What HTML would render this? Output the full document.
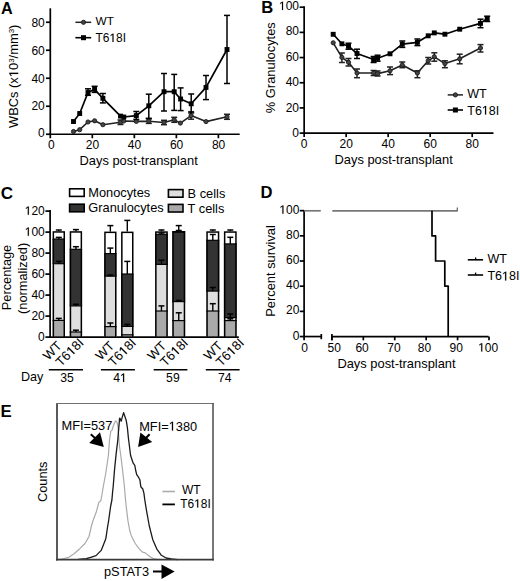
<!DOCTYPE html>
<html><head><meta charset="utf-8"><style>
html,body{margin:0;padding:0;background:#fff;}
svg{display:block;font-family:"Liberation Sans", sans-serif;}
</style></head><body>
<svg width="520" height="581" viewBox="0 0 520 581">
<rect width="520" height="581" fill="#fff"/>
<text x="1.0" y="14.0" font-size="16.2" text-anchor="start" font-weight="bold" fill="#000" >A</text>
<line x1="50.3" y1="8.3" x2="50.3" y2="135.1" stroke="#000" stroke-width="1.7"/>
<line x1="49.449999999999996" y1="134.25" x2="239.7" y2="134.25" stroke="#000" stroke-width="1.7"/>
<line x1="46" y1="134.25" x2="50.3" y2="134.25" stroke="#000" stroke-width="1.7"/>
<text x="44.8" y="137.05" font-size="12" text-anchor="end" font-weight="normal" fill="#000" >0</text>
<line x1="46" y1="106.25" x2="50.3" y2="106.25" stroke="#000" stroke-width="1.7"/>
<text x="44.8" y="109.75" font-size="12" text-anchor="end" font-weight="normal" fill="#000" >20</text>
<line x1="46" y1="78.25" x2="50.3" y2="78.25" stroke="#000" stroke-width="1.7"/>
<text x="44.8" y="82.55" font-size="12" text-anchor="end" font-weight="normal" fill="#000" >40</text>
<line x1="46" y1="50.25" x2="50.3" y2="50.25" stroke="#000" stroke-width="1.7"/>
<text x="44.8" y="54.55" font-size="12" text-anchor="end" font-weight="normal" fill="#000" >60</text>
<line x1="46" y1="22.25" x2="50.3" y2="22.25" stroke="#000" stroke-width="1.7"/>
<text x="44.8" y="26.55" font-size="12" text-anchor="end" font-weight="normal" fill="#000" >80</text>
<line x1="50.3" y1="134.25" x2="50.3" y2="138.25" stroke="#000" stroke-width="1.7"/>
<text x="51.3" y="149.2" font-size="12" text-anchor="middle" font-weight="normal" fill="#000" >0</text>
<line x1="92.32" y1="134.25" x2="92.32" y2="138.25" stroke="#000" stroke-width="1.7"/>
<text x="92.52" y="149.2" font-size="12" text-anchor="middle" font-weight="normal" fill="#000" >20</text>
<line x1="134.33999999999997" y1="134.25" x2="134.33999999999997" y2="138.25" stroke="#000" stroke-width="1.7"/>
<text x="134.53999999999996" y="149.2" font-size="12" text-anchor="middle" font-weight="normal" fill="#000" >40</text>
<line x1="176.36" y1="134.25" x2="176.36" y2="138.25" stroke="#000" stroke-width="1.7"/>
<text x="176.56" y="149.2" font-size="12" text-anchor="middle" font-weight="normal" fill="#000" >60</text>
<line x1="218.38" y1="134.25" x2="218.38" y2="138.25" stroke="#000" stroke-width="1.7"/>
<text x="218.57999999999998" y="149.2" font-size="12" text-anchor="middle" font-weight="normal" fill="#000" >80</text>
<text x="79.5" y="165.4" font-size="12.9" text-anchor="start" font-weight="normal" fill="#000" >Days post-transplant</text>
<text id="one0" x="0" y="0" font-size="12.9" text-anchor="middle" font-weight="normal" fill="#000" transform="translate(18.2,76.3) rotate(-90)">WBCs (x&#x2007;0<tspan font-size="8" dy="-4.5">3</tspan><tspan dy="4.5">/mm</tspan><tspan font-size="8" dy="-4.5">3</tspan><tspan dy="4.5">)</tspan></text>
<line x1="75.4" y1="22.3" x2="91.2" y2="22.3" stroke="#222" stroke-width="1.5"/>
<circle cx="83.5" cy="22.3" r="2.1" fill="#444" stroke="#1a1a1a" stroke-width="0.9"/>
<text x="95.6" y="25.2" font-size="11.8" text-anchor="start" font-weight="normal" fill="#000" >WT</text>
<line x1="75.4" y1="37.7" x2="91.2" y2="37.7" stroke="#000" stroke-width="1.6"/>
<rect x="81" y="35.2" width="5" height="5" fill="#000"/>
<text id="one1" x="95.6" y="41.9" font-size="11.9" text-anchor="start" font-weight="normal" fill="#000" >T6&#x2007;8I</text>
<polyline points="73.5,131.5 79.7,129.7 88,122 94.6,120.8 102.9,124.7 120.5,122.3 123.8,121.0 136.3,121.4 148.8,121.2 164,122.5 174.2,119.8 180.4,123.1 191.1,115.6 206,121.6 227,116.8" fill="none" stroke="#222" stroke-width="1.6" stroke-linejoin="round"/>
<line x1="120.5" y1="120" x2="120.5" y2="124.5" stroke="#222" stroke-width="1.5"/>
<line x1="117.5" y1="120" x2="123.5" y2="120" stroke="#222" stroke-width="1.5"/>
<line x1="117.5" y1="124.5" x2="123.5" y2="124.5" stroke="#222" stroke-width="1.5"/>
<line x1="148.8" y1="119" x2="148.8" y2="123.4" stroke="#222" stroke-width="1.5"/>
<line x1="145.8" y1="119" x2="151.8" y2="119" stroke="#222" stroke-width="1.5"/>
<line x1="145.8" y1="123.4" x2="151.8" y2="123.4" stroke="#222" stroke-width="1.5"/>
<line x1="164" y1="120.3" x2="164" y2="124.7" stroke="#222" stroke-width="1.5"/>
<line x1="161.0" y1="120.3" x2="167.0" y2="120.3" stroke="#222" stroke-width="1.5"/>
<line x1="161.0" y1="124.7" x2="167.0" y2="124.7" stroke="#222" stroke-width="1.5"/>
<line x1="174.2" y1="117.3" x2="174.2" y2="122.3" stroke="#222" stroke-width="1.5"/>
<line x1="171.2" y1="117.3" x2="177.2" y2="117.3" stroke="#222" stroke-width="1.5"/>
<line x1="171.2" y1="122.3" x2="177.2" y2="122.3" stroke="#222" stroke-width="1.5"/>
<line x1="191.1" y1="111.7" x2="191.1" y2="119.2" stroke="#222" stroke-width="1.5"/>
<line x1="188.1" y1="111.7" x2="194.1" y2="111.7" stroke="#222" stroke-width="1.5"/>
<line x1="188.1" y1="119.2" x2="194.1" y2="119.2" stroke="#222" stroke-width="1.5"/>
<line x1="227" y1="114.3" x2="227" y2="119.3" stroke="#222" stroke-width="1.5"/>
<line x1="224.0" y1="114.3" x2="230.0" y2="114.3" stroke="#222" stroke-width="1.5"/>
<line x1="224.0" y1="119.3" x2="230.0" y2="119.3" stroke="#222" stroke-width="1.5"/>
<circle cx="73.5" cy="131.5" r="2.1" fill="#444" stroke="#1a1a1a" stroke-width="0.9"/>
<circle cx="79.7" cy="129.7" r="2.1" fill="#444" stroke="#1a1a1a" stroke-width="0.9"/>
<circle cx="88" cy="122" r="2.1" fill="#444" stroke="#1a1a1a" stroke-width="0.9"/>
<circle cx="94.6" cy="120.8" r="2.1" fill="#444" stroke="#1a1a1a" stroke-width="0.9"/>
<circle cx="102.9" cy="124.7" r="2.1" fill="#444" stroke="#1a1a1a" stroke-width="0.9"/>
<circle cx="120.5" cy="122.3" r="2.1" fill="#444" stroke="#1a1a1a" stroke-width="0.9"/>
<circle cx="123.8" cy="121.0" r="2.1" fill="#444" stroke="#1a1a1a" stroke-width="0.9"/>
<circle cx="136.3" cy="121.4" r="2.1" fill="#444" stroke="#1a1a1a" stroke-width="0.9"/>
<circle cx="148.8" cy="121.2" r="2.1" fill="#444" stroke="#1a1a1a" stroke-width="0.9"/>
<circle cx="164" cy="122.5" r="2.1" fill="#444" stroke="#1a1a1a" stroke-width="0.9"/>
<circle cx="174.2" cy="119.8" r="2.1" fill="#444" stroke="#1a1a1a" stroke-width="0.9"/>
<circle cx="180.4" cy="123.1" r="2.1" fill="#444" stroke="#1a1a1a" stroke-width="0.9"/>
<circle cx="191.1" cy="115.6" r="2.1" fill="#444" stroke="#1a1a1a" stroke-width="0.9"/>
<circle cx="206" cy="121.6" r="2.1" fill="#444" stroke="#1a1a1a" stroke-width="0.9"/>
<circle cx="227" cy="116.8" r="2.1" fill="#444" stroke="#1a1a1a" stroke-width="0.9"/>
<polyline points="73.5,121.5 79.7,113.5 88,92.5 94.6,89.3 102.9,98.3 120.5,116.1 123.8,117 136.3,115.6 148.8,105.8 164,91.7 174.2,91.7 180.6,99 191.2,103.8 206,87.4 227,49.5" fill="none" stroke="#000" stroke-width="1.7" stroke-linejoin="round"/>
<line x1="88" y1="88.8" x2="88" y2="95.3" stroke="#000" stroke-width="1.5"/>
<line x1="85.0" y1="88.8" x2="91.0" y2="88.8" stroke="#000" stroke-width="1.5"/>
<line x1="85.0" y1="95.3" x2="91.0" y2="95.3" stroke="#000" stroke-width="1.5"/>
<line x1="94.6" y1="86.3" x2="94.6" y2="92.4" stroke="#000" stroke-width="1.5"/>
<line x1="91.6" y1="86.3" x2="97.6" y2="86.3" stroke="#000" stroke-width="1.5"/>
<line x1="91.6" y1="92.4" x2="97.6" y2="92.4" stroke="#000" stroke-width="1.5"/>
<line x1="102.9" y1="93.5" x2="102.9" y2="102.9" stroke="#000" stroke-width="1.5"/>
<line x1="99.9" y1="93.5" x2="105.9" y2="93.5" stroke="#000" stroke-width="1.5"/>
<line x1="99.9" y1="102.9" x2="105.9" y2="102.9" stroke="#000" stroke-width="1.5"/>
<line x1="136.3" y1="111.5" x2="136.3" y2="119.4" stroke="#000" stroke-width="1.5"/>
<line x1="133.3" y1="111.5" x2="139.3" y2="111.5" stroke="#000" stroke-width="1.5"/>
<line x1="133.3" y1="119.4" x2="139.3" y2="119.4" stroke="#000" stroke-width="1.5"/>
<line x1="148.8" y1="94.2" x2="148.8" y2="118.3" stroke="#000" stroke-width="1.5"/>
<line x1="145.8" y1="94.2" x2="151.8" y2="94.2" stroke="#000" stroke-width="1.5"/>
<line x1="145.8" y1="118.3" x2="151.8" y2="118.3" stroke="#000" stroke-width="1.5"/>
<line x1="164" y1="73.5" x2="164" y2="111" stroke="#000" stroke-width="1.5"/>
<line x1="161.0" y1="73.5" x2="167.0" y2="73.5" stroke="#000" stroke-width="1.5"/>
<line x1="161.0" y1="111" x2="167.0" y2="111" stroke="#000" stroke-width="1.5"/>
<line x1="174.2" y1="74.4" x2="174.2" y2="110.4" stroke="#000" stroke-width="1.5"/>
<line x1="171.2" y1="74.4" x2="177.2" y2="74.4" stroke="#000" stroke-width="1.5"/>
<line x1="171.2" y1="110.4" x2="177.2" y2="110.4" stroke="#000" stroke-width="1.5"/>
<line x1="180.6" y1="87.9" x2="180.6" y2="110.6" stroke="#000" stroke-width="1.5"/>
<line x1="177.6" y1="87.9" x2="183.6" y2="87.9" stroke="#000" stroke-width="1.5"/>
<line x1="177.6" y1="110.6" x2="183.6" y2="110.6" stroke="#000" stroke-width="1.5"/>
<line x1="191.2" y1="94" x2="191.2" y2="112.9" stroke="#000" stroke-width="1.5"/>
<line x1="188.2" y1="94" x2="194.2" y2="94" stroke="#000" stroke-width="1.5"/>
<line x1="188.2" y1="112.9" x2="194.2" y2="112.9" stroke="#000" stroke-width="1.5"/>
<line x1="206" y1="75.5" x2="206" y2="99.6" stroke="#000" stroke-width="1.5"/>
<line x1="203.0" y1="75.5" x2="209.0" y2="75.5" stroke="#000" stroke-width="1.5"/>
<line x1="203.0" y1="99.6" x2="209.0" y2="99.6" stroke="#000" stroke-width="1.5"/>
<line x1="227" y1="15.4" x2="227" y2="83.5" stroke="#000" stroke-width="1.5"/>
<line x1="224.0" y1="15.4" x2="230.0" y2="15.4" stroke="#000" stroke-width="1.5"/>
<line x1="224.0" y1="83.5" x2="230.0" y2="83.5" stroke="#000" stroke-width="1.5"/>
<rect x="71.05" y="119.05" width="4.9" height="4.9" fill="#000"/>
<rect x="77.25" y="111.05" width="4.9" height="4.9" fill="#000"/>
<rect x="85.55" y="90.05" width="4.9" height="4.9" fill="#000"/>
<rect x="92.14999999999999" y="86.85" width="4.9" height="4.9" fill="#000"/>
<rect x="100.45" y="95.85" width="4.9" height="4.9" fill="#000"/>
<rect x="118.05" y="113.64999999999999" width="4.9" height="4.9" fill="#000"/>
<rect x="121.35" y="114.55" width="4.9" height="4.9" fill="#000"/>
<rect x="133.85000000000002" y="113.14999999999999" width="4.9" height="4.9" fill="#000"/>
<rect x="146.35000000000002" y="103.35" width="4.9" height="4.9" fill="#000"/>
<rect x="161.55" y="89.25" width="4.9" height="4.9" fill="#000"/>
<rect x="171.75" y="89.25" width="4.9" height="4.9" fill="#000"/>
<rect x="178.15" y="96.55" width="4.9" height="4.9" fill="#000"/>
<rect x="188.75" y="101.35" width="4.9" height="4.9" fill="#000"/>
<rect x="203.55" y="84.95" width="4.9" height="4.9" fill="#000"/>
<rect x="224.55" y="47.05" width="4.9" height="4.9" fill="#000"/>
<text x="261.2" y="13.3" font-size="16.6" text-anchor="start" font-weight="bold" fill="#000" >B</text>
<line x1="304.15" y1="6.3" x2="304.15" y2="133.95" stroke="#000" stroke-width="1.7"/>
<line x1="303.29999999999995" y1="133.1" x2="493.5" y2="133.1" stroke="#000" stroke-width="1.7"/>
<line x1="299.6" y1="133.1" x2="304.15" y2="133.1" stroke="#000" stroke-width="1.7"/>
<text x="299.0" y="136.9" font-size="12" text-anchor="end" font-weight="normal" fill="#000" >0</text>
<line x1="299.6" y1="107.91999999999999" x2="304.15" y2="107.91999999999999" stroke="#000" stroke-width="1.7"/>
<text x="299.0" y="111.51999999999998" font-size="12" text-anchor="end" font-weight="normal" fill="#000" >20</text>
<line x1="299.6" y1="82.74" x2="304.15" y2="82.74" stroke="#000" stroke-width="1.7"/>
<text x="299.0" y="86.13999999999999" font-size="12" text-anchor="end" font-weight="normal" fill="#000" >40</text>
<line x1="299.6" y1="57.56" x2="304.15" y2="57.56" stroke="#000" stroke-width="1.7"/>
<text x="299.0" y="60.76" font-size="12" text-anchor="end" font-weight="normal" fill="#000" >60</text>
<line x1="299.6" y1="32.379999999999995" x2="304.15" y2="32.379999999999995" stroke="#000" stroke-width="1.7"/>
<text x="299.0" y="35.379999999999995" font-size="12" text-anchor="end" font-weight="normal" fill="#000" >80</text>
<line x1="299.6" y1="7.200000000000003" x2="304.15" y2="7.200000000000003" stroke="#000" stroke-width="1.7"/>
<text id="one2" x="299.0" y="10.000000000000004" font-size="12" text-anchor="end" font-weight="normal" fill="#000" >&#x2007;00</text>
<line x1="304.15" y1="133.1" x2="304.15" y2="137.1" stroke="#000" stroke-width="1.7"/>
<text x="304.15" y="148.2" font-size="12" text-anchor="middle" font-weight="normal" fill="#000" >0</text>
<line x1="346.162" y1="133.1" x2="346.162" y2="137.1" stroke="#000" stroke-width="1.7"/>
<text x="346.162" y="148.2" font-size="12" text-anchor="middle" font-weight="normal" fill="#000" >20</text>
<line x1="388.174" y1="133.1" x2="388.174" y2="137.1" stroke="#000" stroke-width="1.7"/>
<text x="388.174" y="148.2" font-size="12" text-anchor="middle" font-weight="normal" fill="#000" >40</text>
<line x1="430.186" y1="133.1" x2="430.186" y2="137.1" stroke="#000" stroke-width="1.7"/>
<text x="430.186" y="148.2" font-size="12" text-anchor="middle" font-weight="normal" fill="#000" >60</text>
<line x1="472.198" y1="133.1" x2="472.198" y2="137.1" stroke="#000" stroke-width="1.7"/>
<text x="472.198" y="148.2" font-size="12" text-anchor="middle" font-weight="normal" fill="#000" >80</text>
<text x="334.5" y="164.2" font-size="12.9" text-anchor="start" font-weight="normal" fill="#000" >Days post-transplant</text>
<text x="0" y="0" font-size="12.9" text-anchor="middle" font-weight="normal" fill="#000" transform="translate(275.2,67.7) rotate(-90)">% Granulocytes</text>
<line x1="447.7" y1="94.9" x2="463" y2="94.9" stroke="#222" stroke-width="1.5"/>
<circle cx="455.4" cy="94.9" r="2.1" fill="#444" stroke="#1a1a1a" stroke-width="0.9"/>
<text x="467.3" y="98.2" font-size="12.5" text-anchor="start" font-weight="normal" fill="#000" >WT</text>
<line x1="447.7" y1="110" x2="463" y2="110" stroke="#000" stroke-width="1.6"/>
<rect x="452.9" y="107.5" width="5" height="5" fill="#000"/>
<text id="one3" x="467.3" y="114.6" font-size="12.5" text-anchor="start" font-weight="normal" fill="#000" >T6&#x2007;8I</text>
<polyline points="333.2,42.8 341.9,57.4 348.5,62.3 357,73 373.6,73 377.6,73.6 390,70.8 402.3,65 417.4,73 428.2,60.8 434.3,56.8 444.9,63.6 459.7,58.8 480.5,48" fill="none" stroke="#222" stroke-width="1.6" stroke-linejoin="round"/>
<line x1="341.9" y1="53" x2="341.9" y2="62.5" stroke="#222" stroke-width="1.5"/>
<line x1="338.9" y1="53" x2="344.9" y2="53" stroke="#222" stroke-width="1.5"/>
<line x1="338.9" y1="62.5" x2="344.9" y2="62.5" stroke="#222" stroke-width="1.5"/>
<line x1="348.5" y1="58.5" x2="348.5" y2="66" stroke="#222" stroke-width="1.5"/>
<line x1="345.5" y1="58.5" x2="351.5" y2="58.5" stroke="#222" stroke-width="1.5"/>
<line x1="345.5" y1="66" x2="351.5" y2="66" stroke="#222" stroke-width="1.5"/>
<line x1="357" y1="69" x2="357" y2="77.7" stroke="#222" stroke-width="1.5"/>
<line x1="354.0" y1="69" x2="360.0" y2="69" stroke="#222" stroke-width="1.5"/>
<line x1="354.0" y1="77.7" x2="360.0" y2="77.7" stroke="#222" stroke-width="1.5"/>
<line x1="373.6" y1="70.5" x2="373.6" y2="75.5" stroke="#222" stroke-width="1.5"/>
<line x1="370.6" y1="70.5" x2="376.6" y2="70.5" stroke="#222" stroke-width="1.5"/>
<line x1="370.6" y1="75.5" x2="376.6" y2="75.5" stroke="#222" stroke-width="1.5"/>
<line x1="377.6" y1="71" x2="377.6" y2="76" stroke="#222" stroke-width="1.5"/>
<line x1="374.6" y1="71" x2="380.6" y2="71" stroke="#222" stroke-width="1.5"/>
<line x1="374.6" y1="76" x2="380.6" y2="76" stroke="#222" stroke-width="1.5"/>
<line x1="390" y1="67" x2="390" y2="74.6" stroke="#222" stroke-width="1.5"/>
<line x1="387.0" y1="67" x2="393.0" y2="67" stroke="#222" stroke-width="1.5"/>
<line x1="387.0" y1="74.6" x2="393.0" y2="74.6" stroke="#222" stroke-width="1.5"/>
<line x1="402.3" y1="62" x2="402.3" y2="67.7" stroke="#222" stroke-width="1.5"/>
<line x1="399.3" y1="62" x2="405.3" y2="62" stroke="#222" stroke-width="1.5"/>
<line x1="399.3" y1="67.7" x2="405.3" y2="67.7" stroke="#222" stroke-width="1.5"/>
<line x1="417.4" y1="70.8" x2="417.4" y2="77.7" stroke="#222" stroke-width="1.5"/>
<line x1="414.4" y1="70.8" x2="420.4" y2="70.8" stroke="#222" stroke-width="1.5"/>
<line x1="414.4" y1="77.7" x2="420.4" y2="77.7" stroke="#222" stroke-width="1.5"/>
<line x1="428.2" y1="57.5" x2="428.2" y2="64" stroke="#222" stroke-width="1.5"/>
<line x1="425.2" y1="57.5" x2="431.2" y2="57.5" stroke="#222" stroke-width="1.5"/>
<line x1="425.2" y1="64" x2="431.2" y2="64" stroke="#222" stroke-width="1.5"/>
<line x1="434.3" y1="52.8" x2="434.3" y2="61.2" stroke="#222" stroke-width="1.5"/>
<line x1="431.3" y1="52.8" x2="437.3" y2="52.8" stroke="#222" stroke-width="1.5"/>
<line x1="431.3" y1="61.2" x2="437.3" y2="61.2" stroke="#222" stroke-width="1.5"/>
<line x1="444.9" y1="60.8" x2="444.9" y2="67.7" stroke="#222" stroke-width="1.5"/>
<line x1="441.9" y1="60.8" x2="447.9" y2="60.8" stroke="#222" stroke-width="1.5"/>
<line x1="441.9" y1="67.7" x2="447.9" y2="67.7" stroke="#222" stroke-width="1.5"/>
<line x1="459.7" y1="54.2" x2="459.7" y2="63.8" stroke="#222" stroke-width="1.5"/>
<line x1="456.7" y1="54.2" x2="462.7" y2="54.2" stroke="#222" stroke-width="1.5"/>
<line x1="456.7" y1="63.8" x2="462.7" y2="63.8" stroke="#222" stroke-width="1.5"/>
<line x1="480.5" y1="44.6" x2="480.5" y2="52" stroke="#222" stroke-width="1.5"/>
<line x1="477.5" y1="44.6" x2="483.5" y2="44.6" stroke="#222" stroke-width="1.5"/>
<line x1="477.5" y1="52" x2="483.5" y2="52" stroke="#222" stroke-width="1.5"/>
<circle cx="333.2" cy="42.8" r="2.1" fill="#444" stroke="#1a1a1a" stroke-width="0.9"/>
<circle cx="341.9" cy="57.4" r="2.1" fill="#444" stroke="#1a1a1a" stroke-width="0.9"/>
<circle cx="348.5" cy="62.3" r="2.1" fill="#444" stroke="#1a1a1a" stroke-width="0.9"/>
<circle cx="357" cy="73" r="2.1" fill="#444" stroke="#1a1a1a" stroke-width="0.9"/>
<circle cx="373.6" cy="73" r="2.1" fill="#444" stroke="#1a1a1a" stroke-width="0.9"/>
<circle cx="377.6" cy="73.6" r="2.1" fill="#444" stroke="#1a1a1a" stroke-width="0.9"/>
<circle cx="390" cy="70.8" r="2.1" fill="#444" stroke="#1a1a1a" stroke-width="0.9"/>
<circle cx="402.3" cy="65" r="2.1" fill="#444" stroke="#1a1a1a" stroke-width="0.9"/>
<circle cx="417.4" cy="73" r="2.1" fill="#444" stroke="#1a1a1a" stroke-width="0.9"/>
<circle cx="428.2" cy="60.8" r="2.1" fill="#444" stroke="#1a1a1a" stroke-width="0.9"/>
<circle cx="434.3" cy="56.8" r="2.1" fill="#444" stroke="#1a1a1a" stroke-width="0.9"/>
<circle cx="444.9" cy="63.6" r="2.1" fill="#444" stroke="#1a1a1a" stroke-width="0.9"/>
<circle cx="459.7" cy="58.8" r="2.1" fill="#444" stroke="#1a1a1a" stroke-width="0.9"/>
<circle cx="480.5" cy="48" r="2.1" fill="#444" stroke="#1a1a1a" stroke-width="0.9"/>
<polyline points="333.2,34.3 341.9,43.8 348.5,46.2 357,53.5 373.6,59.5 377.6,58.2 390,53.8 402.3,44.2 417.4,42.3 428.2,35.8 434.3,32.9 444.9,34.2 459.7,29.2 480.5,23.4 487.2,18.5" fill="none" stroke="#000" stroke-width="1.7" stroke-linejoin="round"/>
<line x1="348.5" y1="43.2" x2="348.5" y2="49.2" stroke="#000" stroke-width="1.5"/>
<line x1="345.5" y1="43.2" x2="351.5" y2="43.2" stroke="#000" stroke-width="1.5"/>
<line x1="345.5" y1="49.2" x2="351.5" y2="49.2" stroke="#000" stroke-width="1.5"/>
<line x1="357" y1="49.2" x2="357" y2="58.5" stroke="#000" stroke-width="1.5"/>
<line x1="354.0" y1="49.2" x2="360.0" y2="49.2" stroke="#000" stroke-width="1.5"/>
<line x1="354.0" y1="58.5" x2="360.0" y2="58.5" stroke="#000" stroke-width="1.5"/>
<line x1="373.6" y1="56.5" x2="373.6" y2="62.5" stroke="#000" stroke-width="1.5"/>
<line x1="370.6" y1="56.5" x2="376.6" y2="56.5" stroke="#000" stroke-width="1.5"/>
<line x1="370.6" y1="62.5" x2="376.6" y2="62.5" stroke="#000" stroke-width="1.5"/>
<line x1="377.6" y1="55.2" x2="377.6" y2="61.2" stroke="#000" stroke-width="1.5"/>
<line x1="374.6" y1="55.2" x2="380.6" y2="55.2" stroke="#000" stroke-width="1.5"/>
<line x1="374.6" y1="61.2" x2="380.6" y2="61.2" stroke="#000" stroke-width="1.5"/>
<line x1="402.3" y1="41" x2="402.3" y2="47.4" stroke="#000" stroke-width="1.5"/>
<line x1="399.3" y1="41" x2="405.3" y2="41" stroke="#000" stroke-width="1.5"/>
<line x1="399.3" y1="47.4" x2="405.3" y2="47.4" stroke="#000" stroke-width="1.5"/>
<line x1="417.4" y1="39" x2="417.4" y2="45.6" stroke="#000" stroke-width="1.5"/>
<line x1="414.4" y1="39" x2="420.4" y2="39" stroke="#000" stroke-width="1.5"/>
<line x1="414.4" y1="45.6" x2="420.4" y2="45.6" stroke="#000" stroke-width="1.5"/>
<line x1="480.5" y1="19.2" x2="480.5" y2="27.7" stroke="#000" stroke-width="1.5"/>
<line x1="477.5" y1="19.2" x2="483.5" y2="19.2" stroke="#000" stroke-width="1.5"/>
<line x1="477.5" y1="27.7" x2="483.5" y2="27.7" stroke="#000" stroke-width="1.5"/>
<line x1="487.2" y1="16.2" x2="487.2" y2="21.5" stroke="#000" stroke-width="1.5"/>
<line x1="484.2" y1="16.2" x2="490.2" y2="16.2" stroke="#000" stroke-width="1.5"/>
<line x1="484.2" y1="21.5" x2="490.2" y2="21.5" stroke="#000" stroke-width="1.5"/>
<rect x="330.75" y="31.849999999999998" width="4.9" height="4.9" fill="#000"/>
<rect x="339.45" y="41.349999999999994" width="4.9" height="4.9" fill="#000"/>
<rect x="346.05" y="43.75" width="4.9" height="4.9" fill="#000"/>
<rect x="354.55" y="51.05" width="4.9" height="4.9" fill="#000"/>
<rect x="371.15000000000003" y="57.05" width="4.9" height="4.9" fill="#000"/>
<rect x="375.15000000000003" y="55.75" width="4.9" height="4.9" fill="#000"/>
<rect x="387.55" y="51.349999999999994" width="4.9" height="4.9" fill="#000"/>
<rect x="399.85" y="41.75" width="4.9" height="4.9" fill="#000"/>
<rect x="414.95" y="39.849999999999994" width="4.9" height="4.9" fill="#000"/>
<rect x="425.75" y="33.349999999999994" width="4.9" height="4.9" fill="#000"/>
<rect x="431.85" y="30.45" width="4.9" height="4.9" fill="#000"/>
<rect x="442.45" y="31.750000000000004" width="4.9" height="4.9" fill="#000"/>
<rect x="457.25" y="26.75" width="4.9" height="4.9" fill="#000"/>
<rect x="478.05" y="20.95" width="4.9" height="4.9" fill="#000"/>
<rect x="484.75" y="16.05" width="4.9" height="4.9" fill="#000"/>
<text x="0.7" y="199.1" font-size="17" text-anchor="start" font-weight="bold" fill="#000" >C</text>
<line x1="50.1" y1="210.0" x2="50.1" y2="337.95000000000005" stroke="#000" stroke-width="1.7"/>
<line x1="49.25" y1="337.1" x2="238.8" y2="337.1" stroke="#000" stroke-width="1.7"/>
<line x1="45.4" y1="337.1" x2="50.1" y2="337.1" stroke="#000" stroke-width="1.7"/>
<text x="44.8" y="340.8" font-size="12" text-anchor="end" font-weight="normal" fill="#000" >0</text>
<line x1="45.4" y1="316.1" x2="50.1" y2="316.1" stroke="#000" stroke-width="1.7"/>
<text x="44.8" y="319.8" font-size="12" text-anchor="end" font-weight="normal" fill="#000" >20</text>
<line x1="45.4" y1="295.1" x2="50.1" y2="295.1" stroke="#000" stroke-width="1.7"/>
<text x="44.8" y="298.8" font-size="12" text-anchor="end" font-weight="normal" fill="#000" >40</text>
<line x1="45.4" y1="274.1" x2="50.1" y2="274.1" stroke="#000" stroke-width="1.7"/>
<text x="44.8" y="277.8" font-size="12" text-anchor="end" font-weight="normal" fill="#000" >60</text>
<line x1="45.4" y1="253.10000000000002" x2="50.1" y2="253.10000000000002" stroke="#000" stroke-width="1.7"/>
<text x="44.8" y="256.8" font-size="12" text-anchor="end" font-weight="normal" fill="#000" >80</text>
<line x1="45.4" y1="232.10000000000002" x2="50.1" y2="232.10000000000002" stroke="#000" stroke-width="1.7"/>
<text id="one4" x="44.8" y="235.8" font-size="12" text-anchor="end" font-weight="normal" fill="#000" >&#x2007;00</text>
<line x1="45.4" y1="211.10000000000002" x2="50.1" y2="211.10000000000002" stroke="#000" stroke-width="1.7"/>
<text id="one5" x="44.8" y="214.8" font-size="12" text-anchor="end" font-weight="normal" fill="#000" >&#x2007;20</text>
<rect x="69.6" y="188.8" width="14.6" height="7.6" fill="#fff" stroke="#000" stroke-width="1.6"/>
<rect x="69.6" y="204.2" width="14.6" height="7.6" fill="#333" stroke="#000" stroke-width="1.6"/>
<rect x="168.4" y="189.6" width="14.6" height="7.6" fill="#dedede" stroke="#000" stroke-width="1.6"/>
<rect x="168.4" y="204.4" width="14.6" height="7.6" fill="#a9a9a9" stroke="#000" stroke-width="1.6"/>
<text x="88.3" y="196.7" font-size="12.8" text-anchor="start" font-weight="normal" fill="#000" >Monocytes</text>
<text x="88.3" y="212.0" font-size="12.8" text-anchor="start" font-weight="normal" fill="#000" >Granulocytes</text>
<text x="187.6" y="197.8" font-size="12.8" text-anchor="start" font-weight="normal" fill="#000" >B cells</text>
<text x="187.6" y="212.8" font-size="12.8" text-anchor="start" font-weight="normal" fill="#000" >T cells</text>
<rect x="52.6" y="231.2" width="12.399999999999999" height="7.800000000000011" fill="#fff"/>
<rect x="52.6" y="239.0" width="12.399999999999999" height="24.69999999999999" fill="#333"/>
<rect x="52.6" y="263.7" width="12.399999999999999" height="56.69999999999999" fill="#dedede"/>
<rect x="52.6" y="320.4" width="12.399999999999999" height="16.700000000000045" fill="#a9a9a9"/>
<line x1="58.8" y1="230.0" x2="58.8" y2="231.2" stroke="#000" stroke-width="1.4"/>
<line x1="55.8" y1="230.0" x2="61.8" y2="230.0" stroke="#000" stroke-width="1.5"/>
<line x1="58.8" y1="237.4" x2="58.8" y2="239.0" stroke="#000" stroke-width="1.4"/>
<line x1="55.8" y1="237.4" x2="61.8" y2="237.4" stroke="#000" stroke-width="1.5"/>
<line x1="58.8" y1="261.4" x2="58.8" y2="263.7" stroke="#000" stroke-width="1.4"/>
<line x1="55.8" y1="261.4" x2="61.8" y2="261.4" stroke="#000" stroke-width="1.5"/>
<line x1="58.8" y1="318.4" x2="58.8" y2="320.4" stroke="#000" stroke-width="1.4"/>
<line x1="55.8" y1="318.4" x2="61.8" y2="318.4" stroke="#000" stroke-width="1.5"/>
<line x1="52.6" y1="239.0" x2="65.0" y2="239.0" stroke="#000" stroke-width="1.2"/>
<line x1="52.6" y1="263.7" x2="65.0" y2="263.7" stroke="#000" stroke-width="1.2"/>
<line x1="52.6" y1="320.4" x2="65.0" y2="320.4" stroke="#000" stroke-width="1.2"/>
<rect x="53.35" y="231.95" width="10.899999999999999" height="105.15000000000003" fill="none" stroke="#000" stroke-width="1.5"/>
<rect x="69.7" y="231.2" width="12.399999999999991" height="18.100000000000023" fill="#fff"/>
<rect x="69.7" y="249.3" width="12.399999999999991" height="56.599999999999966" fill="#333"/>
<rect x="69.7" y="305.9" width="12.399999999999991" height="26.100000000000023" fill="#dedede"/>
<rect x="69.7" y="332.0" width="12.399999999999991" height="5.100000000000023" fill="#a9a9a9"/>
<line x1="75.9" y1="229.6" x2="75.9" y2="231.2" stroke="#000" stroke-width="1.4"/>
<line x1="72.9" y1="229.6" x2="78.9" y2="229.6" stroke="#000" stroke-width="1.5"/>
<line x1="75.9" y1="246.7" x2="75.9" y2="249.3" stroke="#000" stroke-width="1.4"/>
<line x1="72.9" y1="246.7" x2="78.9" y2="246.7" stroke="#000" stroke-width="1.5"/>
<line x1="75.9" y1="304.3" x2="75.9" y2="305.9" stroke="#000" stroke-width="1.4"/>
<line x1="72.9" y1="304.3" x2="78.9" y2="304.3" stroke="#000" stroke-width="1.5"/>
<line x1="75.9" y1="330.2" x2="75.9" y2="332.0" stroke="#000" stroke-width="1.4"/>
<line x1="72.9" y1="330.2" x2="78.9" y2="330.2" stroke="#000" stroke-width="1.5"/>
<line x1="69.7" y1="249.3" x2="82.1" y2="249.3" stroke="#000" stroke-width="1.2"/>
<line x1="69.7" y1="305.9" x2="82.1" y2="305.9" stroke="#000" stroke-width="1.2"/>
<line x1="69.7" y1="332.0" x2="82.1" y2="332.0" stroke="#000" stroke-width="1.2"/>
<rect x="70.45" y="231.95" width="10.899999999999991" height="105.15000000000003" fill="none" stroke="#000" stroke-width="1.5"/>
<rect x="104.2" y="231.6" width="12.299999999999997" height="22.0" fill="#fff"/>
<rect x="104.2" y="253.6" width="12.299999999999997" height="22.599999999999994" fill="#333"/>
<rect x="104.2" y="276.2" width="12.299999999999997" height="50.400000000000034" fill="#dedede"/>
<rect x="104.2" y="326.6" width="12.299999999999997" height="10.5" fill="#a9a9a9"/>
<line x1="110.35" y1="225.6" x2="110.35" y2="231.6" stroke="#000" stroke-width="1.4"/>
<line x1="107.35" y1="225.6" x2="113.35" y2="225.6" stroke="#000" stroke-width="1.5"/>
<line x1="110.35" y1="248.1" x2="110.35" y2="253.6" stroke="#000" stroke-width="1.4"/>
<line x1="107.35" y1="248.1" x2="113.35" y2="248.1" stroke="#000" stroke-width="1.5"/>
<line x1="110.35" y1="275.0" x2="110.35" y2="276.2" stroke="#000" stroke-width="1.4"/>
<line x1="107.35" y1="275.0" x2="113.35" y2="275.0" stroke="#000" stroke-width="1.5"/>
<line x1="110.35" y1="323.0" x2="110.35" y2="326.6" stroke="#000" stroke-width="1.4"/>
<line x1="107.35" y1="323.0" x2="113.35" y2="323.0" stroke="#000" stroke-width="1.5"/>
<line x1="104.2" y1="253.6" x2="116.5" y2="253.6" stroke="#000" stroke-width="1.2"/>
<line x1="104.2" y1="276.2" x2="116.5" y2="276.2" stroke="#000" stroke-width="1.2"/>
<line x1="104.2" y1="326.6" x2="116.5" y2="326.6" stroke="#000" stroke-width="1.2"/>
<rect x="104.95" y="232.35" width="10.799999999999997" height="104.75000000000003" fill="none" stroke="#000" stroke-width="1.5"/>
<rect x="121.1" y="231.6" width="12.400000000000006" height="42.400000000000006" fill="#fff"/>
<rect x="121.1" y="274.0" width="12.400000000000006" height="52.39999999999998" fill="#333"/>
<rect x="121.1" y="326.4" width="12.400000000000006" height="8.400000000000034" fill="#dedede"/>
<rect x="121.1" y="334.8" width="12.400000000000006" height="2.3000000000000114" fill="#a9a9a9"/>
<line x1="127.3" y1="220.4" x2="127.3" y2="231.6" stroke="#000" stroke-width="1.4"/>
<line x1="124.3" y1="220.4" x2="130.3" y2="220.4" stroke="#000" stroke-width="1.5"/>
<line x1="127.3" y1="261.4" x2="127.3" y2="274.0" stroke="#000" stroke-width="1.4"/>
<line x1="124.3" y1="261.4" x2="130.3" y2="261.4" stroke="#000" stroke-width="1.5"/>
<line x1="127.3" y1="324.4" x2="127.3" y2="326.4" stroke="#000" stroke-width="1.4"/>
<line x1="124.3" y1="324.4" x2="130.3" y2="324.4" stroke="#000" stroke-width="1.5"/>
<line x1="121.1" y1="274.0" x2="133.5" y2="274.0" stroke="#000" stroke-width="1.2"/>
<line x1="121.1" y1="326.4" x2="133.5" y2="326.4" stroke="#000" stroke-width="1.2"/>
<line x1="121.1" y1="334.8" x2="133.5" y2="334.8" stroke="#000" stroke-width="1.2"/>
<rect x="121.85" y="232.35" width="10.900000000000006" height="104.75000000000003" fill="none" stroke="#000" stroke-width="1.5"/>
<rect x="155.1" y="231.3" width="12.700000000000017" height="3.0" fill="#fff"/>
<rect x="155.1" y="234.3" width="12.700000000000017" height="30.099999999999966" fill="#333"/>
<rect x="155.1" y="264.4" width="12.700000000000017" height="46.60000000000002" fill="#dedede"/>
<rect x="155.1" y="311.0" width="12.700000000000017" height="26.100000000000023" fill="#a9a9a9"/>
<line x1="161.45" y1="230.0" x2="161.45" y2="231.3" stroke="#000" stroke-width="1.4"/>
<line x1="158.45" y1="230.0" x2="164.45" y2="230.0" stroke="#000" stroke-width="1.5"/>
<line x1="161.45" y1="233.0" x2="161.45" y2="234.3" stroke="#000" stroke-width="1.4"/>
<line x1="158.45" y1="233.0" x2="164.45" y2="233.0" stroke="#000" stroke-width="1.5"/>
<line x1="161.45" y1="260.2" x2="161.45" y2="264.4" stroke="#000" stroke-width="1.4"/>
<line x1="158.45" y1="260.2" x2="164.45" y2="260.2" stroke="#000" stroke-width="1.5"/>
<line x1="161.45" y1="305.9" x2="161.45" y2="311.0" stroke="#000" stroke-width="1.4"/>
<line x1="158.45" y1="305.9" x2="164.45" y2="305.9" stroke="#000" stroke-width="1.5"/>
<line x1="155.1" y1="234.3" x2="167.8" y2="234.3" stroke="#000" stroke-width="1.2"/>
<line x1="155.1" y1="264.4" x2="167.8" y2="264.4" stroke="#000" stroke-width="1.2"/>
<line x1="155.1" y1="311.0" x2="167.8" y2="311.0" stroke="#000" stroke-width="1.2"/>
<rect x="155.85" y="232.05" width="11.200000000000017" height="105.05000000000001" fill="none" stroke="#000" stroke-width="1.5"/>
<rect x="172.3" y="231.3" width="12.899999999999977" height="0.29999999999998295" fill="#fff"/>
<rect x="172.3" y="231.6" width="12.899999999999977" height="70.00000000000003" fill="#333"/>
<rect x="172.3" y="301.6" width="12.899999999999977" height="19.0" fill="#dedede"/>
<rect x="172.3" y="320.6" width="12.899999999999977" height="16.5" fill="#a9a9a9"/>
<line x1="178.75" y1="225.6" x2="178.75" y2="231.3" stroke="#000" stroke-width="1.4"/>
<line x1="175.75" y1="225.6" x2="181.75" y2="225.6" stroke="#000" stroke-width="1.5"/>
<line x1="178.75" y1="230.5" x2="178.75" y2="231.6" stroke="#000" stroke-width="1.4"/>
<line x1="175.75" y1="230.5" x2="181.75" y2="230.5" stroke="#000" stroke-width="1.5"/>
<line x1="178.75" y1="300.5" x2="178.75" y2="301.6" stroke="#000" stroke-width="1.4"/>
<line x1="175.75" y1="300.5" x2="181.75" y2="300.5" stroke="#000" stroke-width="1.5"/>
<line x1="178.75" y1="312.8" x2="178.75" y2="320.6" stroke="#000" stroke-width="1.4"/>
<line x1="175.75" y1="312.8" x2="181.75" y2="312.8" stroke="#000" stroke-width="1.5"/>
<line x1="172.3" y1="231.6" x2="185.2" y2="231.6" stroke="#000" stroke-width="1.2"/>
<line x1="172.3" y1="301.6" x2="185.2" y2="301.6" stroke="#000" stroke-width="1.2"/>
<line x1="172.3" y1="320.6" x2="185.2" y2="320.6" stroke="#000" stroke-width="1.2"/>
<rect x="173.05" y="232.05" width="11.399999999999977" height="105.05000000000001" fill="none" stroke="#000" stroke-width="1.5"/>
<rect x="206.3" y="231.3" width="13.0" height="9.0" fill="#fff"/>
<rect x="206.3" y="240.3" width="13.0" height="50.80000000000001" fill="#333"/>
<rect x="206.3" y="291.1" width="13.0" height="19.899999999999977" fill="#dedede"/>
<rect x="206.3" y="311.0" width="13.0" height="26.100000000000023" fill="#a9a9a9"/>
<line x1="212.8" y1="230.0" x2="212.8" y2="231.3" stroke="#000" stroke-width="1.4"/>
<line x1="209.8" y1="230.0" x2="215.8" y2="230.0" stroke="#000" stroke-width="1.5"/>
<line x1="212.8" y1="234.5" x2="212.8" y2="240.3" stroke="#000" stroke-width="1.4"/>
<line x1="209.8" y1="234.5" x2="215.8" y2="234.5" stroke="#000" stroke-width="1.5"/>
<line x1="212.8" y1="287.5" x2="212.8" y2="291.1" stroke="#000" stroke-width="1.4"/>
<line x1="209.8" y1="287.5" x2="215.8" y2="287.5" stroke="#000" stroke-width="1.5"/>
<line x1="212.8" y1="303.7" x2="212.8" y2="311.0" stroke="#000" stroke-width="1.4"/>
<line x1="209.8" y1="303.7" x2="215.8" y2="303.7" stroke="#000" stroke-width="1.5"/>
<line x1="206.3" y1="240.3" x2="219.3" y2="240.3" stroke="#000" stroke-width="1.2"/>
<line x1="206.3" y1="291.1" x2="219.3" y2="291.1" stroke="#000" stroke-width="1.2"/>
<line x1="206.3" y1="311.0" x2="219.3" y2="311.0" stroke="#000" stroke-width="1.2"/>
<rect x="207.05" y="232.05" width="11.5" height="105.05000000000001" fill="none" stroke="#000" stroke-width="1.5"/>
<rect x="223.9" y="231.3" width="12.799999999999983" height="12.599999999999994" fill="#fff"/>
<rect x="223.9" y="243.9" width="12.799999999999983" height="73.70000000000002" fill="#333"/>
<rect x="223.9" y="317.6" width="12.799999999999983" height="3.0" fill="#dedede"/>
<rect x="223.9" y="320.6" width="12.799999999999983" height="16.5" fill="#a9a9a9"/>
<line x1="230.3" y1="230.0" x2="230.3" y2="231.3" stroke="#000" stroke-width="1.4"/>
<line x1="227.3" y1="230.0" x2="233.3" y2="230.0" stroke="#000" stroke-width="1.5"/>
<line x1="230.3" y1="237.3" x2="230.3" y2="243.9" stroke="#000" stroke-width="1.4"/>
<line x1="227.3" y1="237.3" x2="233.3" y2="237.3" stroke="#000" stroke-width="1.5"/>
<line x1="230.3" y1="314.0" x2="230.3" y2="317.6" stroke="#000" stroke-width="1.4"/>
<line x1="227.3" y1="314.0" x2="233.3" y2="314.0" stroke="#000" stroke-width="1.5"/>
<line x1="230.3" y1="318.8" x2="230.3" y2="320.6" stroke="#000" stroke-width="1.4"/>
<line x1="227.3" y1="318.8" x2="233.3" y2="318.8" stroke="#000" stroke-width="1.5"/>
<line x1="223.9" y1="243.9" x2="236.7" y2="243.9" stroke="#000" stroke-width="1.2"/>
<line x1="223.9" y1="317.6" x2="236.7" y2="317.6" stroke="#000" stroke-width="1.2"/>
<line x1="223.9" y1="320.6" x2="236.7" y2="320.6" stroke="#000" stroke-width="1.2"/>
<rect x="224.65" y="232.05" width="11.299999999999983" height="105.05000000000001" fill="none" stroke="#000" stroke-width="1.5"/>
<text x="0" y="0" font-size="13" text-anchor="end" font-weight="normal" fill="#000" transform="translate(62.6,346.6) rotate(-45)">WT</text>
<text id="one6" x="0" y="0" font-size="13" text-anchor="end" font-weight="normal" fill="#000" transform="translate(84.5,343.7) rotate(-45)">T6&#x2007;8I</text>
<line x1="48.8" y1="369.8" x2="83.0" y2="369.8" stroke="#000" stroke-width="1.6"/>
<text x="67.1" y="382.0" font-size="12.2" text-anchor="middle" font-weight="normal" fill="#000" >35</text>
<text x="0" y="0" font-size="13" text-anchor="end" font-weight="normal" fill="#000" transform="translate(115.0,346.6) rotate(-45)">WT</text>
<text id="one7" x="0" y="0" font-size="13" text-anchor="end" font-weight="normal" fill="#000" transform="translate(136.9,343.7) rotate(-45)">T6&#x2007;8I</text>
<line x1="100.9" y1="369.8" x2="134.9" y2="369.8" stroke="#000" stroke-width="1.6"/>
<text id="one8" x="120.0" y="382.0" font-size="12.2" text-anchor="middle" font-weight="normal" fill="#000" >4&#x2007;</text>
<text x="0" y="0" font-size="13" text-anchor="end" font-weight="normal" fill="#000" transform="translate(167.0,346.6) rotate(-45)">WT</text>
<text id="one9" x="0" y="0" font-size="13" text-anchor="end" font-weight="normal" fill="#000" transform="translate(188.9,343.7) rotate(-45)">T6&#x2007;8I</text>
<line x1="153.7" y1="369.8" x2="187.4" y2="369.8" stroke="#000" stroke-width="1.6"/>
<text x="172.9" y="382.0" font-size="12.2" text-anchor="middle" font-weight="normal" fill="#000" >59</text>
<text x="0" y="0" font-size="13" text-anchor="end" font-weight="normal" fill="#000" transform="translate(223.4,346.6) rotate(-45)">WT</text>
<text id="one10" x="0" y="0" font-size="13" text-anchor="end" font-weight="normal" fill="#000" transform="translate(244.7,343.7) rotate(-45)">T6&#x2007;8I</text>
<line x1="205.8" y1="369.8" x2="239.6" y2="369.8" stroke="#000" stroke-width="1.6"/>
<text x="224.7" y="382.0" font-size="12.2" text-anchor="middle" font-weight="normal" fill="#000" >74</text>
<text x="21.0" y="381.3" font-size="12.6" text-anchor="start" font-weight="normal" fill="#000" >Day</text>
<text x="0" y="0" font-size="12.8" text-anchor="middle" font-weight="normal" fill="#000" transform="translate(10.9,277.5) rotate(-90)">Percentage</text>
<text x="0" y="0" font-size="12.8" text-anchor="middle" font-weight="normal" fill="#000" transform="translate(26.6,278.4) rotate(-90)">(normalized)</text>
<text x="260.5" y="198.1" font-size="16.6" text-anchor="start" font-weight="bold" fill="#000" >D</text>
<line x1="304.1" y1="210.0" x2="304.1" y2="337.40000000000003" stroke="#000" stroke-width="1.7"/>
<line x1="299.8" y1="336.55" x2="304.1" y2="336.55" stroke="#000" stroke-width="1.7"/>
<text x="299.4" y="339.65000000000003" font-size="12" text-anchor="end" font-weight="normal" fill="#000" >0</text>
<line x1="299.8" y1="311.37" x2="304.1" y2="311.37" stroke="#000" stroke-width="1.7"/>
<text x="299.4" y="314.47" font-size="12" text-anchor="end" font-weight="normal" fill="#000" >20</text>
<line x1="299.8" y1="286.19" x2="304.1" y2="286.19" stroke="#000" stroke-width="1.7"/>
<text x="299.4" y="289.29" font-size="12" text-anchor="end" font-weight="normal" fill="#000" >40</text>
<line x1="299.8" y1="261.01" x2="304.1" y2="261.01" stroke="#000" stroke-width="1.7"/>
<text x="299.4" y="264.11" font-size="12" text-anchor="end" font-weight="normal" fill="#000" >60</text>
<line x1="299.8" y1="235.83" x2="304.1" y2="235.83" stroke="#000" stroke-width="1.7"/>
<text x="299.4" y="238.93" font-size="12" text-anchor="end" font-weight="normal" fill="#000" >80</text>
<line x1="299.8" y1="210.65000000000003" x2="304.1" y2="210.65000000000003" stroke="#000" stroke-width="1.7"/>
<text id="one11" x="299.4" y="213.75000000000003" font-size="12" text-anchor="end" font-weight="normal" fill="#000" >&#x2007;00</text>
<line x1="303.25" y1="336.55" x2="321.3" y2="336.55" stroke="#000" stroke-width="1.7"/>
<line x1="321.3" y1="334.0" x2="321.3" y2="339.2" stroke="#000" stroke-width="1.7"/>
<line x1="331.9" y1="336.55" x2="488.6" y2="336.55" stroke="#000" stroke-width="1.7"/>
<line x1="331.9" y1="334.0" x2="331.9" y2="340.3" stroke="#000" stroke-width="1.7"/>
<line x1="304.1" y1="336.55" x2="304.1" y2="340.3" stroke="#000" stroke-width="1.7"/>
<text x="304.6" y="351.5" font-size="12" text-anchor="middle" font-weight="normal" fill="#000" >0</text>
<line x1="331.9" y1="336.55" x2="331.9" y2="340.3" stroke="#000" stroke-width="1.7"/>
<text x="334.25" y="351.5" font-size="12" text-anchor="middle" font-weight="normal" fill="#000" >50</text>
<line x1="363.32" y1="336.55" x2="363.32" y2="340.3" stroke="#000" stroke-width="1.7"/>
<text x="362.1" y="351.5" font-size="12" text-anchor="middle" font-weight="normal" fill="#000" >60</text>
<line x1="394.73999999999995" y1="336.55" x2="394.73999999999995" y2="340.3" stroke="#000" stroke-width="1.7"/>
<text x="394.0" y="351.5" font-size="12" text-anchor="middle" font-weight="normal" fill="#000" >70</text>
<line x1="426.15999999999997" y1="336.55" x2="426.15999999999997" y2="340.3" stroke="#000" stroke-width="1.7"/>
<text x="424.4" y="351.5" font-size="12" text-anchor="middle" font-weight="normal" fill="#000" >80</text>
<line x1="457.58" y1="336.55" x2="457.58" y2="340.3" stroke="#000" stroke-width="1.7"/>
<text x="456.2" y="351.5" font-size="12" text-anchor="middle" font-weight="normal" fill="#000" >90</text>
<line x1="489.0" y1="336.55" x2="489.0" y2="340.3" stroke="#000" stroke-width="1.7"/>
<text id="one12" x="488.2" y="351.5" font-size="12" text-anchor="middle" font-weight="normal" fill="#000" >&#x2007;00</text>
<text x="337.4" y="367.9" font-size="12.9" text-anchor="start" font-weight="normal" fill="#000" >Days post-transplant</text>
<text x="0" y="0" font-size="12.9" text-anchor="middle" font-weight="normal" fill="#000" transform="translate(275.4,271.0) rotate(-90)">Percent survival</text>
<line x1="304.1" y1="210.8" x2="320.8" y2="210.8" stroke="#777" stroke-width="1.7"/>
<line x1="332.3" y1="210.8" x2="457.3" y2="210.8" stroke="#777" stroke-width="1.7"/>
<line x1="457.3" y1="207.5" x2="457.3" y2="211.5" stroke="#777" stroke-width="1.4"/>
<polyline points="432.0,210.8 432.0,235.9 435.6,235.9 435.6,261.0 444.8,261.0 444.8,286.1 448.2,286.1 448.2,336.3" fill="none" stroke="#000" stroke-width="1.7" stroke-linejoin="round"/>
<line x1="467.8" y1="259.8" x2="483.1" y2="259.8" stroke="#000" stroke-width="1.6"/>
<line x1="475.6" y1="257.4" x2="475.6" y2="259.8" stroke="#000" stroke-width="1.3"/>
<text x="487.4" y="263.4" font-size="12.5" text-anchor="start" font-weight="normal" fill="#000" >WT</text>
<line x1="467.8" y1="275.0" x2="483.1" y2="275.0" stroke="#000" stroke-width="1.6"/>
<line x1="475.6" y1="272.6" x2="475.6" y2="275.0" stroke="#000" stroke-width="1.3"/>
<text id="one13" x="487.4" y="280.4" font-size="12.5" text-anchor="start" font-weight="normal" fill="#000" >T6&#x2007;8I</text>
<text x="0.6" y="417.4" font-size="16.8" text-anchor="start" font-weight="bold" fill="#000" >E</text>
<line x1="57.0" y1="402.9" x2="57.0" y2="560.5" stroke="#5a5a5a" stroke-width="2.0"/>
<line x1="56.0" y1="403.5" x2="213.8" y2="403.5" stroke="#707070" stroke-width="1.2"/>
<line x1="213.0" y1="402.9" x2="213.0" y2="560.5" stroke="#555" stroke-width="1.6"/>
<text x="61.5" y="430.2" font-size="12.8" text-anchor="start" font-weight="normal" fill="#000" >MFI=537</text>
<text id="one14" x="139.2" y="430.6" font-size="12.8" text-anchor="start" font-weight="normal" fill="#000" >MFI=&#x2007;380</text>
<polygon points="103.8,446.9 89.2,443.1 100.0,432.3" fill="#000"/>
<line x1="90.8" y1="434.2" x2="95.5" y2="438.5" stroke="#000" stroke-width="2.0"/>
<polygon points="138.1,446.9 140.4,432.5 152.2,442.0" fill="#000"/>
<line x1="149.6" y1="434.2" x2="145.5" y2="438.5" stroke="#000" stroke-width="2.0"/>
<polyline points="57,559.4 61.9,559 68.8,557.3 74,553.8 79.8,548.7 85,543.5 89,536.5 91.7,525 92.7,521.5 96.2,512.3 99,501.9 100.8,500.8 101.9,495 103.3,486.5 105.8,473 108.4,455.5 109.5,440 110.8,431.2 111.9,430.5 113.6,425 115.7,420.8 117,422.2 118.1,427.7 118.8,437 119.3,445 120.8,455.5 122.9,473 124.4,486.5 125.1,495 126.2,506.5 127.9,520.4 129.6,530 131.2,535.4 135.2,543.5 139.2,548.8 142.6,552.2 145.3,552.9 149.3,556.2 154,558.9 160,559.6" fill="none" stroke="#aaa" stroke-width="1.2" stroke-linejoin="round"/>
<polyline points="78,559.4 86.2,558.7 90.8,557.3 96,555.6 101.2,550.4 105.8,538.8 107.4,528 108.5,521.5 110.6,506.5 111.9,500 112.6,492 113.2,486.5 114.6,468.9 116.2,453.4 117.8,440 118.4,432.5 119.1,424.3 119.5,418.8 119.8,418.1 121.2,421.2 122.2,417.4 123.6,412.6 125,416.7 126.3,420.8 127.4,427.7 128.4,438 130.6,455.5 133.2,463.2 134.8,465.3 135.6,470 136.7,474.6 138.5,477.2 139.9,479.8 140.8,486.7 142.8,489 143.9,493.1 144.8,500 146.6,511.2 149.3,526 152.7,539.4 156.7,548.8 161.4,555.3 166.1,558 171.5,558.9 178,559.6" fill="none" stroke="#1a1a1a" stroke-width="1.3" stroke-linejoin="round"/>
<line x1="56" y1="559.7" x2="213.8" y2="559.7" stroke="#3a3a3a" stroke-width="1.7"/>
<line x1="162.4" y1="491.5" x2="174.9" y2="491.5" stroke="#aaa" stroke-width="1.6"/>
<text x="182.0" y="494.2" font-size="12.0" text-anchor="start" font-weight="normal" fill="#000" >WT</text>
<line x1="162.4" y1="504.4" x2="174.9" y2="504.4" stroke="#000" stroke-width="1.8"/>
<text id="one15" x="180.3" y="507.6" font-size="11.9" text-anchor="start" font-weight="normal" fill="#000" >T6&#x2007;8I</text>
<text x="104.0" y="575.5" font-size="12.8" text-anchor="start" font-weight="normal" fill="#000" >pSTAT3</text>
<line x1="153" y1="571.5" x2="162" y2="571.5" stroke="#000" stroke-width="2.0"/>
<polygon points="161.5,564.6 174.6,571.6 161.5,579.0" fill="#000"/>
<text x="0" y="0" font-size="12.8" text-anchor="middle" font-weight="normal" fill="#000" transform="translate(47.4,481.8) rotate(-90)">Counts</text>
<path transform="translate(18.2,76.3) rotate(-90) translate(-0.898,0.000) scale(0.006299,-0.006299)" d="M515 0V1237L197 1010V1180L530 1409H696V0Z" fill="#000" stroke="#000" stroke-width="28"/>
<path transform=" translate(109.475,41.900) scale(0.005811,-0.005811)" d="M515 0V1237L197 1010V1180L530 1409H696V0Z" fill="#000" stroke="#000" stroke-width="28"/>
<path transform=" translate(278.969,10.000) scale(0.005859,-0.005859)" d="M515 0V1237L197 1010V1180L530 1409H696V0Z" fill="#000" stroke="#000" stroke-width="28"/>
<path transform=" translate(481.878,114.600) scale(0.006104,-0.006104)" d="M515 0V1237L197 1010V1180L530 1409H696V0Z" fill="#000" stroke="#000" stroke-width="28"/>
<path transform=" translate(24.769,235.800) scale(0.005859,-0.005859)" d="M515 0V1237L197 1010V1180L530 1409H696V0Z" fill="#000" stroke="#000" stroke-width="28"/>
<path transform=" translate(24.769,214.800) scale(0.005859,-0.005859)" d="M515 0V1237L197 1010V1180L530 1409H696V0Z" fill="#000" stroke="#000" stroke-width="28"/>
<path transform="translate(84.5,343.7) rotate(-45) translate(-18.094,0.000) scale(0.006348,-0.006348)" d="M515 0V1237L197 1010V1180L530 1409H696V0Z" fill="#000" stroke="#000" stroke-width="28"/>
<path transform="translate(136.9,343.7) rotate(-45) translate(-18.094,0.000) scale(0.006348,-0.006348)" d="M515 0V1237L197 1010V1180L530 1409H696V0Z" fill="#000" stroke="#000" stroke-width="28"/>
<path transform=" translate(119.984,382.000) scale(0.005957,-0.005957)" d="M515 0V1237L197 1010V1180L530 1409H696V0Z" fill="#000" stroke="#000" stroke-width="28"/>
<path transform="translate(188.9,343.7) rotate(-45) translate(-18.094,0.000) scale(0.006348,-0.006348)" d="M515 0V1237L197 1010V1180L530 1409H696V0Z" fill="#000" stroke="#000" stroke-width="28"/>
<path transform="translate(244.7,343.7) rotate(-45) translate(-18.094,0.000) scale(0.006348,-0.006348)" d="M515 0V1237L197 1010V1180L530 1409H696V0Z" fill="#000" stroke="#000" stroke-width="28"/>
<path transform=" translate(279.369,213.750) scale(0.005859,-0.005859)" d="M515 0V1237L197 1010V1180L530 1409H696V0Z" fill="#000" stroke="#000" stroke-width="28"/>
<path transform=" translate(478.184,351.500) scale(0.005859,-0.005859)" d="M515 0V1237L197 1010V1180L530 1409H696V0Z" fill="#000" stroke="#000" stroke-width="28"/>
<path transform=" translate(501.978,280.400) scale(0.006104,-0.006104)" d="M515 0V1237L197 1010V1180L530 1409H696V0Z" fill="#000" stroke="#000" stroke-width="28"/>
<path transform=" translate(168.700,430.600) scale(0.006250,-0.006250)" d="M515 0V1237L197 1010V1180L530 1409H696V0Z" fill="#000" stroke="#000" stroke-width="28"/>
<path transform=" translate(194.175,507.600) scale(0.005811,-0.005811)" d="M515 0V1237L197 1010V1180L530 1409H696V0Z" fill="#000" stroke="#000" stroke-width="28"/>
</svg></body></html>
